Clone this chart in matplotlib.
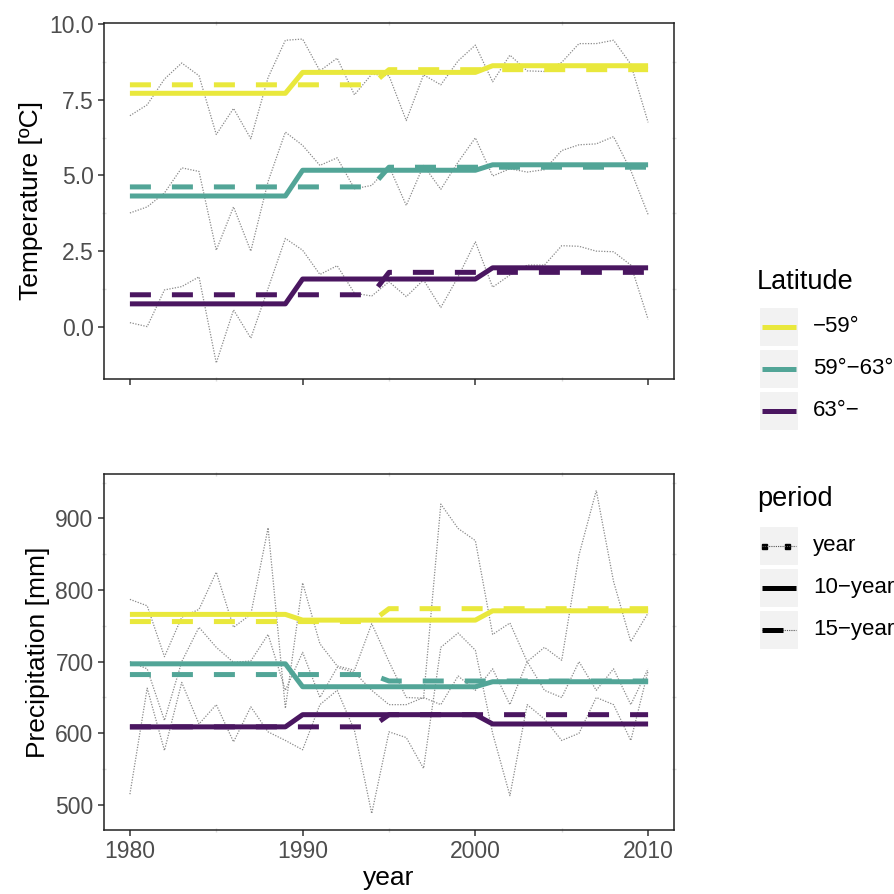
import matplotlib
matplotlib.use("Agg")
import matplotlib.pyplot as plt
from matplotlib.patches import Rectangle
from matplotlib.lines import Line2D

plt.rcParams['font.family'] = ['Liberation Sans', 'DejaVu Sans']

years = list(range(1980, 2011))
lat_labels = ["\u221259\u00b0", "59\u00b0\u221263\u00b0", "63\u00b0\u2212"]
lat_colors = ["#E9E83C", "#52A597", "#4A1660"]
period_labels = ["year", "10\u2212year", "15\u2212year"]

# yearly mean temperature per latitude band
temp_south = [6.97, 7.33, 8.18, 8.71, 8.29, 6.35, 7.21, 6.21, 8.23, 9.46,
              9.50, 8.45, 8.87, 7.66, 8.34, 8.29, 6.81, 8.32, 7.99, 8.78,
              9.30, 8.09, 8.97, 8.45, 8.43, 8.73, 9.35, 9.35, 9.46, 8.67, 6.75]
temp_mid = [3.76, 3.96, 4.42, 5.25, 5.13, 2.53, 3.96, 2.50, 4.80, 6.43,
            5.99, 5.33, 5.58, 4.56, 4.67, 5.30, 4.01, 5.33, 4.54, 5.44,
            6.24, 4.98, 5.22, 5.11, 5.19, 5.82, 6.01, 6.04, 6.28, 5.16, 3.71]
temp_north = [0.14, 0.01, 1.22, 1.33, 1.65, -1.19, 0.56, -0.37, 1.27, 2.92,
              2.53, 1.73, 2.02, 1.11, 1.02, 1.49, 1.00, 1.55, 0.64, 1.65,
              2.81, 1.31, 1.71, 2.04, 2.04, 2.68, 2.66, 2.50, 2.48, 2.04, 0.25]

# yearly precipitation per latitude band
prec_south = [787, 778, 707, 762, 773, 825, 748, 766, 887, 635,
              810, 725, 694, 688, 753, 700, 650, 649, 920, 886,
              869, 738, 754, 700, 720, 702, 849, 939, 812, 728, 768]
prec_mid = [700, 690, 618, 700, 748, 720, 699, 701, 738, 660,
            713, 650, 692, 685, 660, 640, 640, 650, 640, 680,
            660, 690, 640, 700, 660, 650, 700, 660, 690, 640, 690]
prec_north = [515, 663, 576, 671, 613, 640, 588, 637, 602, 590,
              577, 640, 660, 604, 488, 602, 594, 551, 720, 740,
              716, 600, 513, 640, 620, 590, 600, 650, 640, 590, 687]

# 10-year period means (1980-89, 1990-2000, 2001-10)
t10_south = [7.71, 8.40, 8.62]
t10_mid = [4.32, 5.17, 5.35]
t10_north = [0.76, 1.58, 1.95]
p10_south = [766, 758, 771]
p10_mid = [697, 665, 672]
p10_north = [609, 626, 613]

# 15-year period means (1980-94, 1995-2010)
t15_south = [7.99, 8.49]
t15_mid = [4.62, 5.27]
t15_north = [1.06, 1.80]
p15_south = [756, 774]
p15_mid = [682, 673]
p15_north = [609, 626]

groups10 = [(1980, 1989), (1990, 2000), (2001, 2010)]
groups15 = [(1980, 1994), (1995, 2010)]

LW = 3.6


def expand(means, groups):
    out = []
    for m, (a, b) in zip(means, groups):
        out += [m] * (b - a + 1)
    return out


def draw_panel(ax, yearly, m10, m15):
    for vals in yearly:
        ax.plot(years, vals, color="#8a8a8a", lw=0.9, ls=(0, (1, 1.2)), zorder=2)
    for vals, c in zip(m15, lat_colors):
        ax.plot(years, expand(vals, groups15), color=c, lw=LW,
                dashes=(4.2, 4.2), dash_capstyle="butt", zorder=3)
    for vals, c in zip(m10, lat_colors):
        ax.plot(years, expand(vals, groups10), color=c, lw=LW,
                solid_capstyle="butt", zorder=4)
    ax.set_xlim(1978.5, 2011.5)
    ax.set_xticks([1980, 1990, 2000, 2010])
    ax.set_xticks([1985, 1995, 2005], minor=True)
    for s in ax.spines.values():
        s.set_color("#222222")
        s.set_linewidth(1.1)
    ax.tick_params(which="major", direction="out", length=4, width=1.1,
                   color="#333333", labelcolor="#4D4D4D", labelsize=16.5)
    ax.tick_params(which="minor", direction="inout", length=3, width=1.0,
                   color="#dddddd", top=True, right=True)


fig = plt.figure(figsize=(8.94, 8.94), dpi=100)
ax1 = fig.add_axes([104 / 894, 515 / 894, 570 / 894, 356 / 894])
ax2 = fig.add_axes([104 / 894, 64 / 894, 570 / 894, 356 / 894])

draw_panel(ax1, [temp_south, temp_mid, temp_north],
           [t10_south, t10_mid, t10_north], [t15_south, t15_mid, t15_north])
ax1.set_ylim(-1.72, 10.03)
ax1.set_yticks([0, 2.5, 5, 7.5, 10])
ax1.set_yticklabels(["0.0", "2.5", "5.0", "7.5", "10.0"])
ax1.set_yticks([1.25, 3.75, 6.25, 8.75], minor=True)
ax1.tick_params(axis="x", labelbottom=False)
ax1.set_ylabel("Temperature [\u00baC]", fontsize=19, labelpad=4)

draw_panel(ax2, [prec_south, prec_mid, prec_north],
           [p10_south, p10_mid, p10_north], [p15_south, p15_mid, p15_north])
ax2.set_ylim(465, 962)
ax2.set_yticks([500, 600, 700, 800, 900])
ax2.set_yticks([550, 650, 750, 850, 950], minor=True)
ax2.set_ylabel("Precipitation [mm]", fontsize=19, labelpad=4)
ax2.set_xlabel("year", fontsize=19, labelpad=2)

# legends drawn in a figure-sized overlay (pixel coordinates, y downward)
lg = fig.add_axes([0, 0, 1, 1], facecolor="none")
lg.set_xlim(0, 894)
lg.set_ylim(894, 0)
lg.axis("off")

lg.text(757, 282, "Latitude", fontsize=19.5, va="center", ha="left")
for i, (lab, c) in enumerate(zip(lat_labels, lat_colors)):
    y0 = 307 + i * 42
    lg.add_patch(Rectangle((759, y0), 40, 40, facecolor="#F2F2F2", edgecolor="white", lw=1.5))
    lg.add_line(Line2D([762, 796], [y0 + 20, y0 + 20], color=c, lw=LW, solid_capstyle="butt"))
    lg.text(813, y0 + 20, lab, fontsize=16, va="center", ha="left")

lg.text(757, 499, "period", fontsize=19.5, va="center", ha="left")
for i, lab in enumerate(period_labels):
    y0 = 526 + i * 42
    yc = y0 + 20
    lg.add_patch(Rectangle((759, y0), 40, 40, facecolor="#F2F2F2", edgecolor="white", lw=1.5))
    if lab == "year":
        lg.add_line(Line2D([762, 796], [yc, yc], color="#555555", lw=0.8, ls=(0, (1, 1))))
        lg.add_patch(Rectangle((762, yc - 2.5), 5, 5, color="black"))
        lg.add_patch(Rectangle((785, yc - 2.5), 5, 5, color="black"))
    elif lab == "10\u2212year":
        lg.add_line(Line2D([762, 796], [yc, yc], color="black", lw=LW, solid_capstyle="butt"))
    else:
        lg.add_line(Line2D([762, 796], [yc, yc], color="#555555", lw=0.8, ls=(0, (1, 1))))
        lg.add_line(Line2D([762, 783], [yc, yc], color="black", lw=LW, solid_capstyle="butt"))
    lg.text(813, yc, lab, fontsize=16, va="center", ha="left")

fig.savefig("out.png", dpi=100)
plt.close(fig)
